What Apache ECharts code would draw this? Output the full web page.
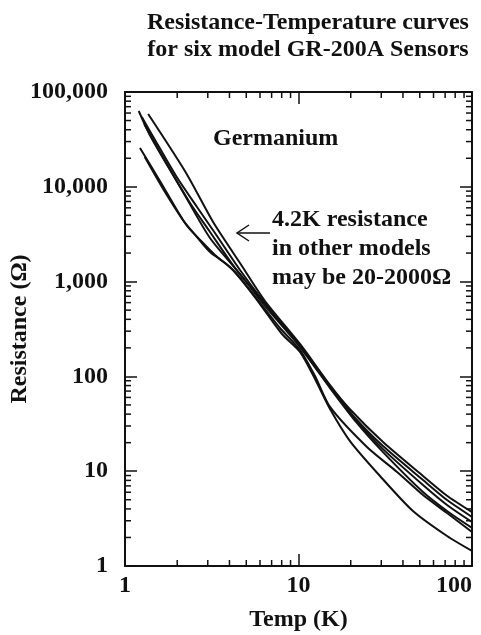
<!DOCTYPE html>
<html>
<head>
<meta charset="utf-8">
<title>GR-200A resistance vs temperature</title>
<script src="https://cdn.jsdelivr.net/npm/echarts@6/dist/echarts.min.js"></script>
<style>
  html, body { margin: 0; padding: 0; background: #fff; }
  #chart { width: 481px; height: 635px; }
</style>
</head>
<body>
<div id="chart"></div>
<script>
// six GR-200A germanium sensors, [T in K, R in ohm]
var sensorA = [[1.36,58600],[2.25,14000],[3.22,4250],[4.6,1570],[6.41,624],[10.2,220],[15.2,81],[19.8,45],[30.7,20.3],[52.2,8.9],[71.8,5.5],[100,3.7]];
var sensorB = [[1.2,63000],[1.39,35200],[1.82,15000],[2.37,6750],[3.09,3340],[4.31,1390],[6.16,640],[9.93,225],[15.2,79],[21.2,36.4],[30.7,18.4],[52.2,8.07],[71.8,4.97],[100,3.29]];
var sensorC = [[1.25,54500],[1.49,31200],[1.97,13000],[2.6,6120],[3.3,3256],[4.6,1326],[6.33,609],[10.2,209],[15.2,77.3],[21.7,33.8],[30.7,17.1],[52.2,7.15],[71.8,4.4],[100,2.91]];
var sensorD = [[1.29,45960],[1.59,23300],[2.16,8810],[3.09,2880],[4.6,1200],[6.33,567],[10.2,204],[15.2,75.4],[21.7,32.3],[30.7,15.9],[52.2,6.03],[71.8,3.8],[100,2.52]];
var sensorE = [[1.22,25700],[1.59,11510],[2.16,4465],[2.6,2954],[3.09,2053],[4.03,1426],[5.77,655],[7.82,324],[10.2,190],[12.45,101],[15.2,47.6],[24.8,18],[37,9.81],[52.2,5.61],[71.8,3.62],[100,2.28]];
var sensorF = [[1.3,20600],[1.7,8810],[2.28,3860],[2.71,2750],[3.3,1910],[4.31,1263],[6.0,580],[8.03,280],[10.2,181],[12.45,94],[15.2,45.3],[19.8,20.8],[29.5,8.9],[45.7,3.8],[71.8,2.07],[100,1.44]];

var xMin = 1, xMax = 100, yMin = 1, yMax = 100000;
var xTickLabels = ['1', '10', '100'];
var yTickLabels = ['1', '10', '100', '1,000', '10,000', '100,000'];
var xMinorTicks = [2,3,4,5,6,7,8,9,20,30,40,50,60,70,80,90];
var yMinorTicks = [2,3,4,5,6,7,8,9,
                   20,30,40,50,60,70,80,90,
                   200,300,400,500,600,700,800,900,
                   2000,3000,4000,5000,6000,7000,8000,9000,
                   20000,30000,40000,50000,60000,70000,80000,90000];

var ink = '#111';
var serif = '"Liberation Serif", "Times New Roman", serif';
var noteFont = 'bold 24px ' + serif;

var chart = echarts.init(document.getElementById('chart'));

function logLabel(labels) {
    return function (v) { return labels[Math.round(Math.log10(v))]; };
}

// short inward ticks between the decades, on both sides of the frame
function minorTicks(values, onX) {
    return {
        type: 'custom',
        silent: true,
        clip: false,
        z: 5,
        data: values.map(function (v) { return onX ? [v, yMin] : [xMin, v]; }),
        renderItem: function (params, api) {
            var v = api.value(onX ? 0 : 1);
            var a = api.coord(onX ? [v, yMin] : [xMin, v]);
            var b = api.coord(onX ? [v, yMax] : [xMax, v]);
            var len = 6;
            var st = { stroke: ink, lineWidth: 1.5 };
            return {
                type: 'group',
                children: [
                    { type: 'line', style: st, shape: onX
                        ? { x1: a[0], y1: a[1], x2: a[0], y2: a[1] - len }
                        : { x1: a[0], y1: a[1], x2: a[0] + len, y2: a[1] } },
                    { type: 'line', style: st, shape: onX
                        ? { x1: b[0], y1: b[1], x2: b[0], y2: b[1] + len }
                        : { x1: b[0], y1: b[1], x2: b[0] - len, y2: b[1] } }
                ]
            };
        }
    };
}

function curve(data) {
    return {
        type: 'line',
        data: data,
        symbol: 'none',
        smooth: 0.25,
        silent: true,
        z: 3,
        lineStyle: { color: ink, width: 2 }
    };
}

var axisLine = { onZero: false, lineStyle: { color: ink, width: 2 } };
var majorTick = { inside: true, length: 12, lineStyle: { color: ink, width: 1.5 } };
var labelFont = { fontFamily: serif, fontWeight: 'bold', fontSize: 24, color: ink };

var option = {
    animation: false,
    backgroundColor: '#fff',
    title: {
        text: 'Resistance-Temperature curves\nfor six model GR-200A Sensors',
        left: 303,
        top: 4,
        textAlign: 'center',
        textStyle: { fontFamily: serif, fontWeight: 'bold', fontSize: 24, lineHeight: 27, color: ink }
    },
    grid: { left: 125, right: 9, top: 92, bottom: 69, outerBoundsMode: 'none' },
    xAxis: [{
        type: 'log', logBase: 10, min: xMin, max: xMax,
        name: 'Temp (K)', nameLocation: 'middle', nameGap: 42, nameMoveOverlap: false,
        nameTextStyle: labelFont,
        axisLine: axisLine, axisTick: majorTick,
        axisLabel: Object.assign({ formatter: logLabel(xTickLabels), margin: 8, alignMaxLabel: 'right' }, labelFont),
        splitLine: { show: false }
    }, {
        type: 'log', logBase: 10, min: xMin, max: xMax, position: 'top',
        axisLine: axisLine, axisTick: majorTick,
        axisLabel: { show: false }, splitLine: { show: false }
    }],
    yAxis: [{
        type: 'log', logBase: 10, min: yMin, max: yMax,
        name: 'Resistance (\u03a9)', nameLocation: 'middle', nameGap: 93, nameRotate: 90, nameMoveOverlap: false,
        nameTextStyle: labelFont,
        axisLine: axisLine, axisTick: majorTick,
        axisLabel: Object.assign({ formatter: logLabel(yTickLabels), margin: 17 }, labelFont),
        splitLine: { show: false }
    }, {
        type: 'log', logBase: 10, min: yMin, max: yMax, position: 'right',
        axisLine: axisLine, axisTick: majorTick,
        axisLabel: { show: false }, splitLine: { show: false }
    }],
    series: [
        curve(sensorA), curve(sensorB), curve(sensorC),
        curve(sensorD), curve(sensorE), curve(sensorF),
        minorTicks(xMinorTicks, true),
        minorTicks(yMinorTicks, false)
    ],
    graphic: [
        { type: 'text', left: 213, top: 127, style: { text: 'Germanium', font: noteFont, fill: ink } },
        { type: 'text', left: 272, top: 205, style: {
            text: '4.2K resistance\nin other models\nmay be 20-2000\u03a9',
            font: noteFont, lineHeight: 29, fill: ink } },
        { type: 'polyline', shape: { points: [[270, 233], [237, 233]] }, style: { stroke: ink, lineWidth: 1.5, fill: null } },
        { type: 'polyline', shape: { points: [[249, 225], [237, 233], [249, 241]] }, style: { stroke: ink, lineWidth: 1.5, fill: null } }
    ]
};

chart.setOption(option);
</script>
</body>
</html>
